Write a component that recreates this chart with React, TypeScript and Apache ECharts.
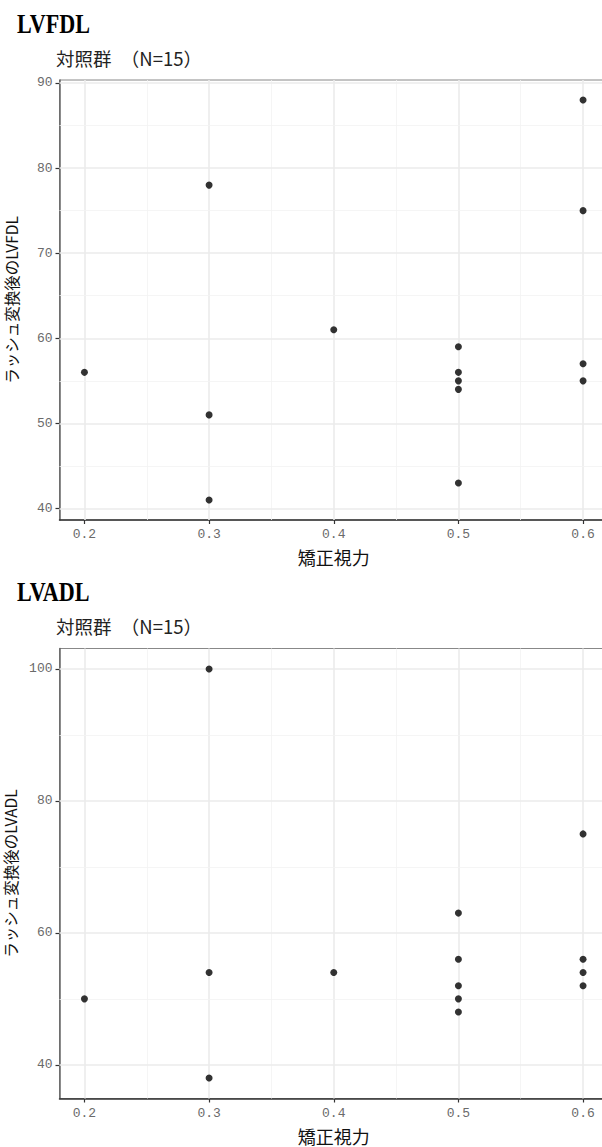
import React, { useEffect, useRef } from "react";
import * as echarts from "echarts";

// ---- data ----
const visionF = [0.2, 0.3, 0.3, 0.3, 0.4, 0.5, 0.5, 0.5, 0.5, 0.5, 0.6, 0.6, 0.6, 0.6];
const lvfdl = [56, 78, 51, 41, 61, 59, 56, 55, 54, 43, 88, 75, 57, 55];
const visionA = [0.2, 0.3, 0.3, 0.3, 0.4, 0.5, 0.5, 0.5, 0.5, 0.5, 0.6, 0.6, 0.6, 0.6];
const lvadl = [50, 100, 54, 38, 54, 63, 56, 52, 50, 48, 75, 56, 54, 52];

const xTicks = [0.2, 0.3, 0.4, 0.5, 0.6];
const xMinor = [0.25, 0.35, 0.45, 0.55];
const yTicksF = [40, 50, 60, 70, 80, 90];
const yMinorF = [45, 55, 65, 75, 85];
const yTicksA = [40, 60, 80, 100];
const yMinorA = [50, 70, 90];

const titles = ["LVFDL", "LVADL"];
const subtitle = "対照群　（N=15）";
const xTitle = "矯正視力";
const yTitles = ["ラッシュ変換後のLVFDL", "ラッシュ変換後のLVADL"];

const CJK = '"Noto Sans CJK JP", "Noto Sans", sans-serif';
const MONO = '"Liberation Mono", "DejaVu Sans Mono", monospace';

export default function App() {
  const ref = useRef<HTMLDivElement>(null);
  useEffect(() => {
    document.body.style.margin = "0";
    if (!ref.current) return;
    const chart = echarts.init(ref.current, null, { renderer: "svg" });

    const grids = [
      { left: 59.5, top: 80, right: -6, height: 440 },
      { left: 59.5, top: 648.5, right: -6, height: 450 },
    ];
    const yRanges = [
      [38.65, 90.35],
      [34.9, 103.1],
    ];
    const yTicks = [yTicksF, yTicksA];
    const yMinor = [yMinorF, yMinorA];
    const xs = [visionF, visionA];
    const ys = [lvfdl, lvadl];

    const xAxis: any[] = [];
    const yAxis: any[] = [];
    const series: any[] = [];
    const graphic: any[] = [];

    for (let i = 0; i < 2; i++) {
      xAxis.push({
        type: "value",
        gridIndex: i,
        min: 0.18,
        max: 0.62,
        name: xTitle,
        nameLocation: "middle",
        nameGap: 28,
        nameTextStyle: { fontFamily: CJK, fontSize: 18, color: "#111" },
        axisLine: { show: true, onZero: false, lineStyle: { color: "#333", width: 1.5 } },
        axisTick: { show: true, length: 4, customValues: xTicks, lineStyle: { color: "#333", width: 1.2 } },
        axisLabel: {
          customValues: xTicks,
          formatter: (v: number) => v.toFixed(1),
          fontFamily: MONO,
          fontSize: 13,
          color: "#6a6a6a",
          margin: 8,
        },
        splitLine: { show: false },
      });
      yAxis.push({
        type: "value",
        gridIndex: i,
        min: yRanges[i][0],
        max: yRanges[i][1],
        name: yTitles[i],
        nameLocation: "middle",
        nameGap: 41,
        nameRotate: 90,
        nameTextStyle: { fontFamily: CJK, fontSize: 15.5, color: "#111" },
        axisLine: { show: true, onZero: false, lineStyle: { color: "#666", width: 1.5 } },
        axisTick: { show: true, length: 4, customValues: yTicks[i], lineStyle: { color: "#333", width: 1.2 } },
        axisLabel: {
          customValues: yTicks[i],
          formatter: (v: number) => String(Math.round(v)),
          fontFamily: MONO,
          fontSize: 13,
          color: "#6a6a6a",
          margin: 7,
        },
        splitLine: { show: false },
      });

      const major = { color: "#ebebeb", width: 1.6, type: "solid" };
      const minor = { color: "#f2f2f2", width: 0.8, type: "solid" };
      const mlData: any[] = [];
      xTicks.forEach((v) => mlData.push({ xAxis: v, lineStyle: major }));
      xMinor.forEach((v) => mlData.push({ xAxis: v, lineStyle: minor }));
      yTicks[i].forEach((v) => mlData.push({ yAxis: v, lineStyle: major }));
      yMinor[i].forEach((v) => mlData.push({ yAxis: v, lineStyle: minor }));

      series.push({
        type: "scatter",
        xAxisIndex: i,
        yAxisIndex: i,
        data: xs[i].map((x, k) => [x, ys[i][k]]),
        symbol: "circle",
        symbolSize: 7,
        itemStyle: { color: "#000" },
        z: 10,
        markLine: {
          silent: true,
          symbol: ["none", "none"],
          label: { show: false },
          z: 1,
          data: mlData,
        },
      });

      const top0 = i === 0 ? 0 : 568;
      graphic.push({
        type: "text",
        left: 17,
        top: top0 + 10,
        scaleX: 0.82,
        style: {
          text: titles[i],
          fontFamily: '"Liberation Serif", "DejaVu Serif", serif',
          fontSize: 27,
          fontWeight: "bold",
          fill: "#000",
        },
      });
      graphic.push({
        type: "text",
        left: 56,
        top: top0 + 49,
        style: {
          text: subtitle,
          fontFamily: CJK,
          fontSize: 18.5,
          fill: "#222",
        },
      });
    }

    chart.setOption({
      animation: false,
      backgroundColor: "#fff",
      grid: grids.map((g) => ({
        ...g,
        show: true,
        borderColor: "#888",
        borderWidth: 1,
        backgroundColor: "transparent",
        containLabel: false,
        outerBoundsMode: "none",
      })),
      xAxis,
      yAxis,
      series,
      graphic,
    });
    return () => chart.dispose();
  }, []);
  return <div ref={ref} style={{ width: 602, height: 1147 }} />;
}
